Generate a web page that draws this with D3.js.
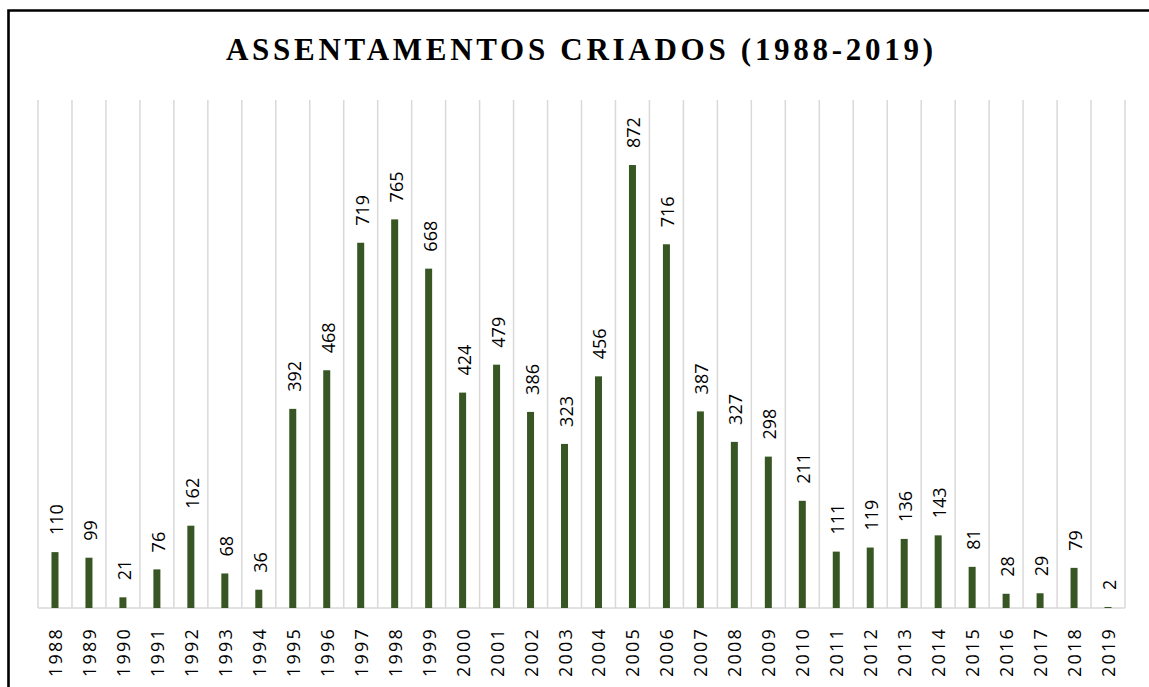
<!DOCTYPE html>
<html>
<head>
<meta charset="utf-8">
<script src="https://cdn.jsdelivr.net/npm/d3@7"></script>
<style>
  body { margin: 0; background: #fff; }
  svg { display: block; }
</style>
</head>
<body>
<div id="chart"></div>
<script>
// data
const years = [1988, 1989, 1990, 1991, 1992, 1993, 1994, 1995, 1996, 1997, 1998, 1999,
  2000, 2001, 2002, 2003, 2004, 2005, 2006, 2007, 2008, 2009, 2010, 2011, 2012,
  2013, 2014, 2015, 2016, 2017, 2018, 2019];
const assentamentos = [110, 99, 21, 76, 162, 68, 36, 392, 468, 719, 765, 668,
  424, 479, 386, 323, 456, 872, 716, 387, 327, 298, 211, 111, 119,
  136, 143, 81, 28, 29, 79, 2];
const yDomain = [0, 1000];
const titleText = "ASSENTAMENTOS CRIADOS (1988-2019)";

const W = 1149, H = 687;
const barColor = "#375623";
const gridColor = "#d9d9d9";

let svg = d3.select("#chart").append("svg")
  .attr("width", W)
  .attr("height", H);

// outer frame (only left and top edges show)
svg.append("path")
  .attr("d", `M8.5,${H} L8.5,10.5 L${W},10.5`)
  .attr("fill", "none")
  .attr("stroke", "#000")
  .attr("stroke-width", 2.6);

// title
svg.append("text")
  .attr("x", 579.5)
  .attr("y", 60)
  .attr("text-anchor", "middle")
  .attr("textLength", 707)
  .attr("lengthAdjust", "spacing")
  .style("font-family", "'Liberation Serif', 'Times New Roman', serif")
  .style("font-weight", "bold")
  .style("font-size", "31px")
  .text(titleText);

let x = d3.scaleBand()
  .domain(years)
  .range([38, 1125])
  .paddingInner(0)
  .paddingOuter(0);

let y = d3.scaleLinear()
  .domain(yDomain)
  .range([608, 100]);

let data = years.map((yr, i) => ({ year: yr, value: assentamentos[i] }));

// vertical gridlines at category edges
let edges = years.map(d => x(d)).concat([x.range()[1]]);
svg.append("g")
  .selectAll("line")
  .data(edges)
  .enter().append("line")
  .attr("x1", d => d)
  .attr("x2", d => d)
  .attr("y1", y(yDomain[1]))
  .attr("y2", y(0))
  .attr("stroke", gridColor)
  .attr("stroke-width", 1.5);

// baseline
svg.append("line")
  .attr("x1", x.range()[0])
  .attr("x2", x.range()[1])
  .attr("y1", y(0))
  .attr("y2", y(0))
  .attr("stroke", gridColor)
  .attr("stroke-width", 1.5);

const barW = 7;

svg.append("g")
  .selectAll("rect")
  .data(data)
  .enter().append("rect")
  .attr("x", d => x(d.year) + x.bandwidth() / 2 - barW / 2)
  .attr("y", d => y(d.value))
  .attr("width", barW)
  .attr("height", d => y(0) - y(d.value))
  .attr("fill", barColor);

// value labels, rotated
svg.append("g")
  .selectAll("text")
  .data(data)
  .enter().append("text")
  .attr("transform", d => `translate(${x(d.year) + x.bandwidth() / 2 + 1},${y(d.value) - 17}) rotate(-90)`)
  .attr("text-anchor", "start")
  .attr("dominant-baseline", "central")
  .style("font-family", "'Open Sans', sans-serif")
  .style("font-size", "18px")
  .style("fill", "#000")
  .text(d => d.value);

// x axis labels, rotated
let xAxis = d3.axisBottom(x).tickSize(0).tickPadding(0);
let gx = svg.append("g")
  .attr("transform", `translate(0,${y(0)})`)
  .call(xAxis);
gx.select(".domain").remove();
gx.selectAll("text")
  .attr("x", -19)
  .attr("y", 0)
  .attr("dy", null)
  .attr("transform", "rotate(-90)")
  .attr("text-anchor", "end")
  .attr("dominant-baseline", "central")
  .style("font-family", "'Open Sans', sans-serif")
  .style("font-size", "18px")
  .style("letter-spacing", "2.2px")
  .style("fill", "#000");
</script>
</body>
</html>
